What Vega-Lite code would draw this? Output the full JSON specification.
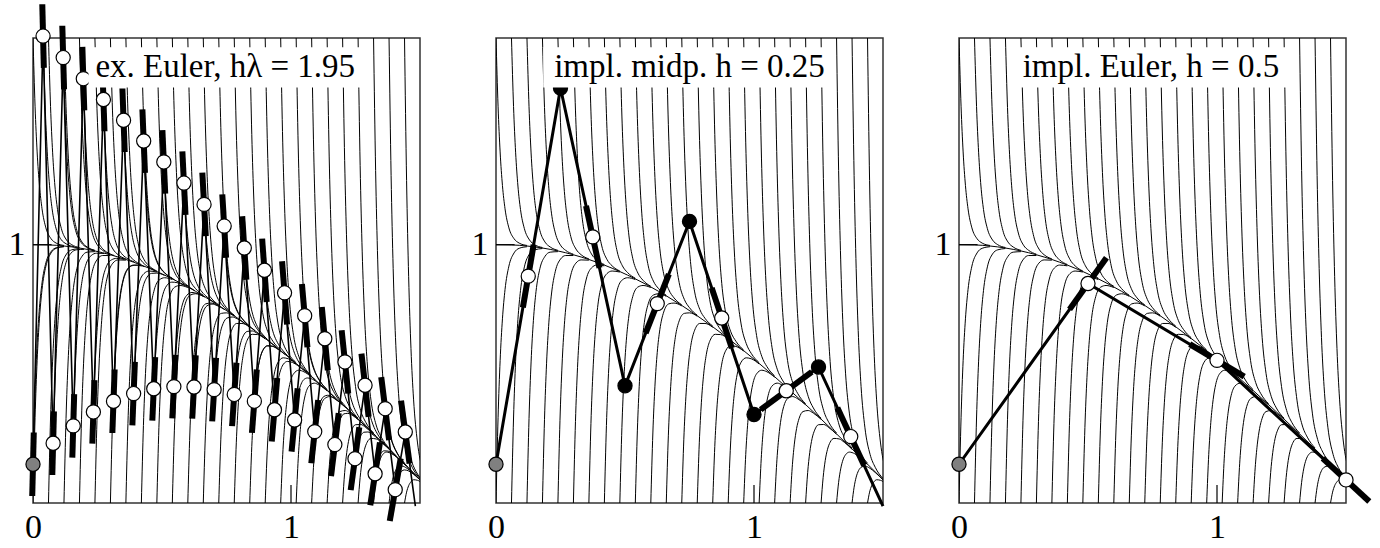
{
"$schema": "https://vega.github.io/schema/vega-lite/v6.json",
"padding": {"left": 7, "top": 0, "right": 2, "bottom": 2},
"background": "white",
"config": {
  "view": {"stroke": "#333", "strokeWidth": 1.5},
  "mark": {"font": "Liberation Serif"},
  "text": {"font": "Liberation Serif"},
  "axis": {"grid": false, "ticks": false, "domain": false, "title": null, "labelFont": "Liberation Serif", "labelFontSize": 34, "labelColor": "black", "labelFlush": false, "labelOverlap": false},
  "axisX": {"labelPadding": 7},
  "axisY": {"labelPadding": 8}
},
"datasets": {
"one": [{"a": 1}],
"field": [
{"i":"t0","x":0,"y":1.8},{"i":"t0","x":0.008,"y":1.536},{"i":"t0","x":0.016,"y":1.359},{"i":"t0","x":0.025,"y":1.229},{"i":"t0","x":0.035,"y":1.139},{"i":"t0","x":0.05,"y":1.065},{"i":"t0","x":0.07,"y":1.023},{"i":"t0","x":0.09,"y":1.006},{"i":"t0","x":0.12,"y":0.997},
{"i":"b0","x":0,"y":0},{"i":"b0","x":0.008,"y":0.33},{"i":"b0","x":0.016,"y":0.551},{"i":"b0","x":0.025,"y":0.713},{"i":"b0","x":0.035,"y":0.826},{"i":"b0","x":0.05,"y":0.917},{"i":"b0","x":0.07,"y":0.968},{"i":"b0","x":0.09,"y":0.986},{"i":"b0","x":0.12,"y":0.992},
{"i":"t1","x":0.06,"y":1.8},{"i":"t1","x":0.068,"y":1.535},{"i":"t1","x":0.076,"y":1.358},{"i":"t1","x":0.085,"y":1.227},{"i":"t1","x":0.095,"y":1.136},{"i":"t1","x":0.11,"y":1.062},{"i":"t1","x":0.13,"y":1.018},{"i":"t1","x":0.15,"y":1.0},{"i":"t1","x":0.18,"y":0.989},
{"i":"b1","x":0.06,"y":0},{"i":"b1","x":0.068,"y":0.329},{"i":"b1","x":0.076,"y":0.549},{"i":"b1","x":0.085,"y":0.711},{"i":"b1","x":0.095,"y":0.823},{"i":"b1","x":0.11,"y":0.914},{"i":"b1","x":0.13,"y":0.964},{"i":"b1","x":0.15,"y":0.98},{"i":"b1","x":0.18,"y":0.985},
{"i":"t2","x":0.12,"y":1.8},{"i":"t2","x":0.128,"y":1.534},{"i":"t2","x":0.136,"y":1.355},{"i":"t2","x":0.145,"y":1.223},{"i":"t2","x":0.155,"y":1.131},{"i":"t2","x":0.17,"y":1.055},{"i":"t2","x":0.19,"y":1.01},{"i":"t2","x":0.21,"y":0.991},{"i":"t2","x":0.24,"y":0.978},
{"i":"b2","x":0.12,"y":0},{"i":"b2","x":0.128,"y":0.327},{"i":"b2","x":0.136,"y":0.546},{"i":"b2","x":0.145,"y":0.707},{"i":"b2","x":0.155,"y":0.818},{"i":"b2","x":0.17,"y":0.907},{"i":"b2","x":0.19,"y":0.955},{"i":"b2","x":0.21,"y":0.971},{"i":"b2","x":0.24,"y":0.973},
{"i":"t3","x":0.18,"y":1.8},{"i":"t3","x":0.188,"y":1.531},{"i":"t3","x":0.196,"y":1.35},{"i":"t3","x":0.205,"y":1.216},{"i":"t3","x":0.215,"y":1.122},{"i":"t3","x":0.23,"y":1.045},{"i":"t3","x":0.25,"y":0.998},{"i":"t3","x":0.27,"y":0.978},{"i":"t3","x":0.3,"y":0.963},
{"i":"b3","x":0.18,"y":0},{"i":"b3","x":0.188,"y":0.324},{"i":"b3","x":0.196,"y":0.541},{"i":"b3","x":0.205,"y":0.7},{"i":"b3","x":0.215,"y":0.809},{"i":"b3","x":0.23,"y":0.897},{"i":"b3","x":0.25,"y":0.944},{"i":"b3","x":0.27,"y":0.958},{"i":"b3","x":0.3,"y":0.958},
{"i":"t4","x":0.24,"y":1.8},{"i":"t4","x":0.248,"y":1.526},{"i":"t4","x":0.256,"y":1.342},{"i":"t4","x":0.265,"y":1.206},{"i":"t4","x":0.275,"y":1.111},{"i":"t4","x":0.29,"y":1.031},{"i":"t4","x":0.31,"y":0.983},{"i":"t4","x":0.33,"y":0.961},{"i":"t4","x":0.36,"y":0.945},
{"i":"b4","x":0.24,"y":0},{"i":"b4","x":0.248,"y":0.32},{"i":"b4","x":0.256,"y":0.534},{"i":"b4","x":0.265,"y":0.69},{"i":"b4","x":0.275,"y":0.798},{"i":"b4","x":0.29,"y":0.883},{"i":"b4","x":0.31,"y":0.929},{"i":"b4","x":0.33,"y":0.941},{"i":"b4","x":0.36,"y":0.94},
{"i":"t5","x":0.3,"y":1.8},{"i":"t5","x":0.308,"y":1.521},{"i":"t5","x":0.316,"y":1.333},{"i":"t5","x":0.325,"y":1.194},{"i":"t5","x":0.335,"y":1.096},{"i":"t5","x":0.35,"y":1.015},{"i":"t5","x":0.37,"y":0.964},{"i":"t5","x":0.39,"y":0.941},{"i":"t5","x":0.42,"y":0.923},
{"i":"b5","x":0.3,"y":0},{"i":"b5","x":0.308,"y":0.315},{"i":"b5","x":0.316,"y":0.525},{"i":"b5","x":0.325,"y":0.678},{"i":"b5","x":0.335,"y":0.784},{"i":"b5","x":0.35,"y":0.867},{"i":"b5","x":0.37,"y":0.91},{"i":"b5","x":0.39,"y":0.921},{"i":"b5","x":0.42,"y":0.918},
{"i":"t6","x":0.36,"y":1.8},{"i":"t6","x":0.368,"y":1.514},{"i":"t6","x":0.376,"y":1.322},{"i":"t6","x":0.385,"y":1.18},{"i":"t6","x":0.395,"y":1.079},{"i":"t6","x":0.41,"y":0.995},{"i":"t6","x":0.43,"y":0.943},{"i":"t6","x":0.45,"y":0.918},{"i":"t6","x":0.48,"y":0.898},
{"i":"b6","x":0.36,"y":0},{"i":"b6","x":0.368,"y":0.308},{"i":"b6","x":0.376,"y":0.514},{"i":"b6","x":0.385,"y":0.664},{"i":"b6","x":0.395,"y":0.767},{"i":"b6","x":0.41,"y":0.847},{"i":"b6","x":0.43,"y":0.888},{"i":"b6","x":0.45,"y":0.898},{"i":"b6","x":0.48,"y":0.894},
{"i":"t7","x":0.42,"y":1.8},{"i":"t7","x":0.428,"y":1.507},{"i":"t7","x":0.436,"y":1.31},{"i":"t7","x":0.445,"y":1.163},{"i":"t7","x":0.455,"y":1.06},{"i":"t7","x":0.47,"y":0.972},{"i":"t7","x":0.49,"y":0.918},{"i":"t7","x":0.51,"y":0.892},{"i":"t7","x":0.54,"y":0.87},
{"i":"b7","x":0.42,"y":0},{"i":"b7","x":0.428,"y":0.3},{"i":"b7","x":0.436,"y":0.501},{"i":"b7","x":0.445,"y":0.647},{"i":"b7","x":0.455,"y":0.747},{"i":"b7","x":0.47,"y":0.825},{"i":"b7","x":0.49,"y":0.864},{"i":"b7","x":0.51,"y":0.872},{"i":"b7","x":0.54,"y":0.865},
{"i":"t8","x":0.48,"y":1.8},{"i":"t8","x":0.488,"y":1.498},{"i":"t8","x":0.496,"y":1.295},{"i":"t8","x":0.505,"y":1.144},{"i":"t8","x":0.515,"y":1.037},{"i":"t8","x":0.53,"y":0.947},{"i":"t8","x":0.55,"y":0.89},{"i":"t8","x":0.57,"y":0.862},{"i":"t8","x":0.6,"y":0.839},
{"i":"b8","x":0.48,"y":0},{"i":"b8","x":0.488,"y":0.292},{"i":"b8","x":0.496,"y":0.486},{"i":"b8","x":0.505,"y":0.628},{"i":"b8","x":0.515,"y":0.724},{"i":"b8","x":0.53,"y":0.799},{"i":"b8","x":0.55,"y":0.836},{"i":"b8","x":0.57,"y":0.842},{"i":"b8","x":0.6,"y":0.834},
{"i":"t9","x":0.54,"y":1.8},{"i":"t9","x":0.548,"y":1.489},{"i":"t9","x":0.556,"y":1.279},{"i":"t9","x":0.565,"y":1.122},{"i":"t9","x":0.575,"y":1.012},{"i":"t9","x":0.59,"y":0.918},{"i":"t9","x":0.61,"y":0.859},{"i":"t9","x":0.63,"y":0.83},{"i":"t9","x":0.66,"y":0.804},
{"i":"b9","x":0.54,"y":0},{"i":"b9","x":0.548,"y":0.282},{"i":"b9","x":0.556,"y":0.47},{"i":"b9","x":0.565,"y":0.606},{"i":"b9","x":0.575,"y":0.699},{"i":"b9","x":0.59,"y":0.771},{"i":"b9","x":0.61,"y":0.805},{"i":"b9","x":0.63,"y":0.81},{"i":"b9","x":0.66,"y":0.8},
{"i":"t10","x":0.6,"y":1.8},{"i":"t10","x":0.608,"y":1.478},{"i":"t10","x":0.616,"y":1.26},{"i":"t10","x":0.625,"y":1.098},{"i":"t10","x":0.635,"y":0.984},{"i":"t10","x":0.65,"y":0.887},{"i":"t10","x":0.67,"y":0.825},{"i":"t10","x":0.69,"y":0.794},{"i":"t10","x":0.72,"y":0.767},
{"i":"b10","x":0.6,"y":0},{"i":"b10","x":0.608,"y":0.271},{"i":"b10","x":0.616,"y":0.452},{"i":"b10","x":0.625,"y":0.583},{"i":"b10","x":0.635,"y":0.671},{"i":"b10","x":0.65,"y":0.739},{"i":"b10","x":0.67,"y":0.771},{"i":"b10","x":0.69,"y":0.774},{"i":"b10","x":0.72,"y":0.763},
{"i":"t11","x":0.66,"y":1.8},{"i":"t11","x":0.668,"y":1.466},{"i":"t11","x":0.676,"y":1.241},{"i":"t11","x":0.685,"y":1.073},{"i":"t11","x":0.695,"y":0.954},{"i":"t11","x":0.71,"y":0.853},{"i":"t11","x":0.73,"y":0.788},{"i":"t11","x":0.75,"y":0.756},{"i":"t11","x":0.78,"y":0.727},
{"i":"b11","x":0.66,"y":0},{"i":"b11","x":0.668,"y":0.26},{"i":"b11","x":0.676,"y":0.432},{"i":"b11","x":0.685,"y":0.557},{"i":"b11","x":0.695,"y":0.641},{"i":"b11","x":0.71,"y":0.705},{"i":"b11","x":0.73,"y":0.734},{"i":"b11","x":0.75,"y":0.736},{"i":"b11","x":0.78,"y":0.723},
{"i":"t12","x":0.72,"y":1.8},{"i":"t12","x":0.728,"y":1.454},{"i":"t12","x":0.736,"y":1.219},{"i":"t12","x":0.745,"y":1.045},{"i":"t12","x":0.755,"y":0.922},{"i":"t12","x":0.77,"y":0.817},{"i":"t12","x":0.79,"y":0.749},{"i":"t12","x":0.81,"y":0.715},{"i":"t12","x":0.84,"y":0.685},
{"i":"b12","x":0.72,"y":0},{"i":"b12","x":0.728,"y":0.247},{"i":"b12","x":0.736,"y":0.411},{"i":"b12","x":0.745,"y":0.529},{"i":"b12","x":0.755,"y":0.609},{"i":"b12","x":0.77,"y":0.669},{"i":"b12","x":0.79,"y":0.695},{"i":"b12","x":0.81,"y":0.695},{"i":"b12","x":0.84,"y":0.68},
{"i":"t13","x":0.78,"y":1.8},{"i":"t13","x":0.788,"y":1.44},{"i":"t13","x":0.796,"y":1.197},{"i":"t13","x":0.805,"y":1.015},{"i":"t13","x":0.815,"y":0.887},{"i":"t13","x":0.83,"y":0.778},{"i":"t13","x":0.85,"y":0.707},{"i":"t13","x":0.87,"y":0.672},{"i":"t13","x":0.9,"y":0.64},
{"i":"b13","x":0.78,"y":0},{"i":"b13","x":0.788,"y":0.233},{"i":"b13","x":0.796,"y":0.388},{"i":"b13","x":0.805,"y":0.5},{"i":"b13","x":0.815,"y":0.574},{"i":"b13","x":0.83,"y":0.63},{"i":"b13","x":0.85,"y":0.653},{"i":"b13","x":0.87,"y":0.652},{"i":"b13","x":0.9,"y":0.635},
{"i":"t14","x":0.84,"y":1.8},{"i":"t14","x":0.848,"y":1.426},{"i":"t14","x":0.856,"y":1.173},{"i":"t14","x":0.865,"y":0.984},{"i":"t14","x":0.875,"y":0.85},{"i":"t14","x":0.89,"y":0.737},{"i":"t14","x":0.91,"y":0.663},{"i":"t14","x":0.93,"y":0.626},{"i":"t14","x":0.96,"y":0.592},
{"i":"b14","x":0.84,"y":0},{"i":"b14","x":0.848,"y":0.219},{"i":"b14","x":0.856,"y":0.364},{"i":"b14","x":0.865,"y":0.468},{"i":"b14","x":0.875,"y":0.538},{"i":"b14","x":0.89,"y":0.589},{"i":"b14","x":0.91,"y":0.609},{"i":"b14","x":0.93,"y":0.606},{"i":"b14","x":0.96,"y":0.588},
{"i":"t15","x":0.9,"y":1.8},{"i":"t15","x":0.908,"y":1.41},{"i":"t15","x":0.916,"y":1.147},{"i":"t15","x":0.925,"y":0.951},{"i":"t15","x":0.935,"y":0.812},{"i":"t15","x":0.95,"y":0.693},{"i":"t15","x":0.97,"y":0.617},{"i":"t15","x":0.99,"y":0.578},{"i":"t15","x":1.02,"y":0.543},
{"i":"b15","x":0.9,"y":0},{"i":"b15","x":0.908,"y":0.204},{"i":"b15","x":0.916,"y":0.338},{"i":"b15","x":0.925,"y":0.435},{"i":"b15","x":0.935,"y":0.499},{"i":"b15","x":0.95,"y":0.545},{"i":"b15","x":0.97,"y":0.562},{"i":"b15","x":0.99,"y":0.558},{"i":"b15","x":1.02,"y":0.538},
{"i":"t16","x":0.96,"y":1.8},{"i":"t16","x":0.968,"y":1.394},{"i":"t16","x":0.976,"y":1.121},{"i":"t16","x":0.985,"y":0.916},{"i":"t16","x":0.995,"y":0.771},{"i":"t16","x":1.01,"y":0.648},{"i":"t16","x":1.03,"y":0.568},{"i":"t16","x":1.05,"y":0.528},{"i":"t16","x":1.08,"y":0.492},
{"i":"b16","x":0.96,"y":0},{"i":"b16","x":0.968,"y":0.188},{"i":"b16","x":0.976,"y":0.312},{"i":"b16","x":0.985,"y":0.4},{"i":"b16","x":0.995,"y":0.459},{"i":"b16","x":1.01,"y":0.5},{"i":"b16","x":1.03,"y":0.514},{"i":"b16","x":1.05,"y":0.508},{"i":"b16","x":1.08,"y":0.487},
{"i":"t17","x":1.02,"y":1.8},{"i":"t17","x":1.028,"y":1.378},{"i":"t17","x":1.036,"y":1.093},{"i":"t17","x":1.045,"y":0.88},{"i":"t17","x":1.055,"y":0.729},{"i":"t17","x":1.07,"y":0.601},{"i":"t17","x":1.09,"y":0.518},{"i":"t17","x":1.11,"y":0.476},{"i":"t17","x":1.14,"y":0.439},
{"i":"b17","x":1.02,"y":0},{"i":"b17","x":1.028,"y":0.171},{"i":"b17","x":1.036,"y":0.284},{"i":"b17","x":1.045,"y":0.364},{"i":"b17","x":1.055,"y":0.417},{"i":"b17","x":1.07,"y":0.453},{"i":"b17","x":1.09,"y":0.464},{"i":"b17","x":1.11,"y":0.456},{"i":"b17","x":1.14,"y":0.434},
{"i":"t18","x":1.08,"y":1.8},{"i":"t18","x":1.088,"y":1.361},{"i":"t18","x":1.096,"y":1.064},{"i":"t18","x":1.105,"y":0.843},{"i":"t18","x":1.115,"y":0.686},{"i":"t18","x":1.13,"y":0.552},{"i":"t18","x":1.15,"y":0.466},{"i":"t18","x":1.17,"y":0.423},{"i":"t18","x":1.2,"y":0.384},
{"i":"b18","x":1.08,"y":0},{"i":"b18","x":1.088,"y":0.154},{"i":"b18","x":1.096,"y":0.255},{"i":"b18","x":1.105,"y":0.327},{"i":"b18","x":1.115,"y":0.373},{"i":"b18","x":1.13,"y":0.404},{"i":"b18","x":1.15,"y":0.412},{"i":"b18","x":1.17,"y":0.403},{"i":"b18","x":1.2,"y":0.38},
{"i":"t19","x":1.14,"y":1.8},{"i":"t19","x":1.148,"y":1.343},{"i":"t19","x":1.156,"y":1.034},{"i":"t19","x":1.165,"y":0.804},{"i":"t19","x":1.175,"y":0.641},{"i":"t19","x":1.19,"y":0.502},{"i":"t19","x":1.21,"y":0.413},{"i":"t19","x":1.23,"y":0.368},{"i":"t19","x":1.26,"y":0.328},
{"i":"b19","x":1.14,"y":0},{"i":"b19","x":1.148,"y":0.136},{"i":"b19","x":1.156,"y":0.225},{"i":"b19","x":1.165,"y":0.288},{"i":"b19","x":1.175,"y":0.328},{"i":"b19","x":1.19,"y":0.354},{"i":"b19","x":1.21,"y":0.358},{"i":"b19","x":1.23,"y":0.348},{"i":"b19","x":1.26,"y":0.324},
{"i":"t20","x":1.2,"y":1.8},{"i":"t20","x":1.208,"y":1.325},{"i":"t20","x":1.216,"y":1.004},{"i":"t20","x":1.225,"y":0.764},{"i":"t20","x":1.235,"y":0.595},{"i":"t20","x":1.25,"y":0.451},{"i":"t20","x":1.27,"y":0.358},{"i":"t20","x":1.29,"y":0.312},{"i":"t20","x":1.32,"y":0.271},
{"i":"b20","x":1.2,"y":0},{"i":"b20","x":1.208,"y":0.118},{"i":"b20","x":1.216,"y":0.195},{"i":"b20","x":1.225,"y":0.249},{"i":"b20","x":1.235,"y":0.282},{"i":"b20","x":1.25,"y":0.303},{"i":"b20","x":1.27,"y":0.304},{"i":"b20","x":1.29,"y":0.292},{"i":"b20","x":1.32,"y":0.266},
{"i":"t21","x":1.26,"y":1.8},{"i":"t21","x":1.268,"y":1.306},{"i":"t21","x":1.276,"y":0.972},{"i":"t21","x":1.285,"y":0.724},{"i":"t21","x":1.295,"y":0.548},{"i":"t21","x":1.31,"y":0.398},{"i":"t21","x":1.33,"y":0.302},{"i":"t21","x":1.35,"y":0.255},{"i":"t21","x":1.38,"y":0.213},
{"i":"b21","x":1.26,"y":0},{"i":"b21","x":1.268,"y":0.099},{"i":"b21","x":1.276,"y":0.164},{"i":"b21","x":1.285,"y":0.208},{"i":"b21","x":1.295,"y":0.235},{"i":"b21","x":1.31,"y":0.25},{"i":"b21","x":1.33,"y":0.248},{"i":"b21","x":1.35,"y":0.235},{"i":"b21","x":1.38,"y":0.208},
{"i":"t22","x":1.32,"y":1.8},{"i":"t22","x":1.328,"y":1.287},{"i":"t22","x":1.336,"y":0.941},{"i":"t22","x":1.345,"y":0.682},{"i":"t22","x":1.355,"y":0.5},{"i":"t22","x":1.37,"y":0.345},{"i":"t22","x":1.39,"y":0.246},{"i":"t22","x":1.41,"y":0.197},{"i":"t22","x":1.44,"y":0.154},
{"i":"b22","x":1.32,"y":0},{"i":"b22","x":1.328,"y":0.08},{"i":"b22","x":1.336,"y":0.132},{"i":"b22","x":1.345,"y":0.167},{"i":"b22","x":1.355,"y":0.187},{"i":"b22","x":1.37,"y":0.197},{"i":"b22","x":1.39,"y":0.191},{"i":"b22","x":1.41,"y":0.177},{"i":"b22","x":1.44,"y":0.149},
{"i":"t23","x":1.38,"y":1.8},{"i":"t23","x":1.388,"y":1.268},{"i":"t23","x":1.396,"y":0.908},{"i":"t23","x":1.405,"y":0.64},{"i":"t23","x":1.415,"y":0.451},{"i":"t23","x":1.43,"y":0.291},{"i":"t23","x":1.45,"y":0.188},{"i":"t23","x":1.47,"y":0.138},{"i":"t23","x":1.5,"y":0.095},
{"i":"b23","x":1.38,"y":0},{"i":"b23","x":1.388,"y":0.061},{"i":"b23","x":1.396,"y":0.1},{"i":"b23","x":1.405,"y":0.125},{"i":"b23","x":1.415,"y":0.138},{"i":"b23","x":1.43,"y":0.143},{"i":"b23","x":1.45,"y":0.134},{"i":"b23","x":1.47,"y":0.118},{"i":"b23","x":1.5,"y":0.09},
{"i":"t24","x":1.44,"y":1.8},{"i":"t24","x":1.448,"y":1.248},{"i":"t24","x":1.456,"y":0.876},{"i":"t24","x":1.465,"y":0.598},{"i":"t24","x":1.475,"y":0.402},{"i":"t24","x":1.49,"y":0.236},{"i":"t24","x":1.51,"y":0.13},
{"i":"b24","x":1.44,"y":0},{"i":"b24","x":1.448,"y":0.042},{"i":"b24","x":1.456,"y":0.067},{"i":"b24","x":1.465,"y":0.082},{"i":"b24","x":1.475,"y":0.09},{"i":"b24","x":1.49,"y":0.088},{"i":"b24","x":1.51,"y":0.076}
],
"smooth": [
{"x":0,"y":0.9996},{"x":0.06,"y":0.999},{"x":0.12,"y":0.9948},{"x":0.18,"y":0.987},{"x":0.24,"y":0.9757},{"x":0.3,"y":0.9609},{"x":0.36,"y":0.9426},{"x":0.42,"y":0.9209},{"x":0.48,"y":0.8959},{"x":0.54,"y":0.8676},{"x":0.6,"y":0.8363},{"x":0.66,"y":0.8019},{"x":0.72,"y":0.7647},{"x":0.78,"y":0.7247},{"x":0.84,"y":0.6821},{"x":0.9,"y":0.637},{"x":0.96,"y":0.5897},{"x":1.02,"y":0.5402},{"x":1.08,"y":0.4888},{"x":1.14,"y":0.4356},{"x":1.2,"y":0.3809},{"x":1.26,"y":0.3247},{"x":1.32,"y":0.2675},{"x":1.38,"y":0.2092},{"x":1.44,"y":0.1502},{"x":1.5,"y":0.0907}
],
"eecurves": [
{"i":"e0","x":0,"y":0.15},{"i":"e0","x":0.008,"y":0.43},{"i":"e0","x":0.016,"y":0.618},{"i":"e0","x":0.025,"y":0.756},{"i":"e0","x":0.035,"y":0.852},{"i":"e0","x":0.05,"y":0.93},{"i":"e0","x":0.07,"y":0.973},{"i":"e0","x":0.09,"y":0.988},{"i":"e0","x":0.12,"y":0.993},
{"i":"e1","x":0.039,"y":1.808},{"i":"e1","x":0.047,"y":1.541},{"i":"e1","x":0.055,"y":1.362},{"i":"e1","x":0.064,"y":1.23},{"i":"e1","x":0.074,"y":1.139},{"i":"e1","x":0.089,"y":1.064},{"i":"e1","x":0.109,"y":1.02},{"i":"e1","x":0.129,"y":1.003},{"i":"e1","x":0.159,"y":0.992},
{"i":"e2","x":0.078,"y":0.231},{"i":"e2","x":0.086,"y":0.484},{"i":"e2","x":0.094,"y":0.653},{"i":"e2","x":0.103,"y":0.777},{"i":"e2","x":0.113,"y":0.862},{"i":"e2","x":0.128,"y":0.931},{"i":"e2","x":0.148,"y":0.968},{"i":"e2","x":0.168,"y":0.98},{"i":"e2","x":0.198,"y":0.982},
{"i":"e3","x":0.117,"y":1.724},{"i":"e3","x":0.125,"y":1.483},{"i":"e3","x":0.133,"y":1.321},{"i":"e3","x":0.142,"y":1.201},{"i":"e3","x":0.152,"y":1.118},{"i":"e3","x":0.167,"y":1.049},{"i":"e3","x":0.187,"y":1.008},{"i":"e3","x":0.207,"y":0.99},{"i":"e3","x":0.237,"y":0.978},
{"i":"e4","x":0.156,"y":0.299},{"i":"e4","x":0.164,"y":0.526},{"i":"e4","x":0.172,"y":0.677},{"i":"e4","x":0.181,"y":0.789},{"i":"e4","x":0.191,"y":0.865},{"i":"e4","x":0.206,"y":0.926},{"i":"e4","x":0.226,"y":0.958},{"i":"e4","x":0.246,"y":0.967},{"i":"e4","x":0.276,"y":0.966},
{"i":"e5","x":0.195,"y":1.643},{"i":"e5","x":0.203,"y":1.424},{"i":"e5","x":0.211,"y":1.277},{"i":"e5","x":0.22,"y":1.168},{"i":"e5","x":0.23,"y":1.092},{"i":"e5","x":0.245,"y":1.029},{"i":"e5","x":0.265,"y":0.99},{"i":"e5","x":0.285,"y":0.972},{"i":"e5","x":0.315,"y":0.958},
{"i":"e6","x":0.234,"y":0.353},{"i":"e6","x":0.242,"y":0.557},{"i":"e6","x":0.25,"y":0.693},{"i":"e6","x":0.259,"y":0.793},{"i":"e6","x":0.269,"y":0.861},{"i":"e6","x":0.284,"y":0.914},{"i":"e6","x":0.304,"y":0.941},{"i":"e6","x":0.324,"y":0.947},{"i":"e6","x":0.354,"y":0.943},
{"i":"e7","x":0.273,"y":1.562},{"i":"e7","x":0.281,"y":1.364},{"i":"e7","x":0.289,"y":1.231},{"i":"e7","x":0.298,"y":1.132},{"i":"e7","x":0.308,"y":1.062},{"i":"e7","x":0.323,"y":1.003},{"i":"e7","x":0.343,"y":0.966},{"i":"e7","x":0.363,"y":0.948},{"i":"e7","x":0.393,"y":0.933},
{"i":"e8","x":0.312,"y":0.394},{"i":"e8","x":0.32,"y":0.577},{"i":"e8","x":0.328,"y":0.7},{"i":"e8","x":0.337,"y":0.789},{"i":"e8","x":0.347,"y":0.849},{"i":"e8","x":0.362,"y":0.896},{"i":"e8","x":0.382,"y":0.918},{"i":"e8","x":0.402,"y":0.921},{"i":"e8","x":0.432,"y":0.915},
{"i":"e9","x":0.351,"y":1.482},{"i":"e9","x":0.359,"y":1.302},{"i":"e9","x":0.367,"y":1.181},{"i":"e9","x":0.376,"y":1.091},{"i":"e9","x":0.386,"y":1.027},{"i":"e9","x":0.401,"y":0.972},{"i":"e9","x":0.421,"y":0.937},{"i":"e9","x":0.441,"y":0.918},{"i":"e9","x":0.471,"y":0.901},
{"i":"e10","x":0.39,"y":0.424},{"i":"e10","x":0.398,"y":0.588},{"i":"e10","x":0.406,"y":0.698},{"i":"e10","x":0.415,"y":0.777},{"i":"e10","x":0.425,"y":0.831},{"i":"e10","x":0.44,"y":0.871},{"i":"e10","x":0.46,"y":0.889},{"i":"e10","x":0.48,"y":0.89},{"i":"e10","x":0.51,"y":0.881},
{"i":"e11","x":0.429,"y":1.401},{"i":"e11","x":0.437,"y":1.238},{"i":"e11","x":0.445,"y":1.128},{"i":"e11","x":0.454,"y":1.046},{"i":"e11","x":0.464,"y":0.987},{"i":"e11","x":0.479,"y":0.936},{"i":"e11","x":0.499,"y":0.902},{"i":"e11","x":0.519,"y":0.883},{"i":"e11","x":0.549,"y":0.864},
{"i":"e12","x":0.468,"y":0.442},{"i":"e12","x":0.476,"y":0.59},{"i":"e12","x":0.484,"y":0.688},{"i":"e12","x":0.493,"y":0.759},{"i":"e12","x":0.503,"y":0.806},{"i":"e12","x":0.518,"y":0.841},{"i":"e12","x":0.538,"y":0.855},{"i":"e12","x":0.558,"y":0.853},{"i":"e12","x":0.588,"y":0.842},
{"i":"e13","x":0.507,"y":1.32},{"i":"e13","x":0.515,"y":1.173},{"i":"e13","x":0.523,"y":1.072},{"i":"e13","x":0.532,"y":0.997},{"i":"e13","x":0.542,"y":0.943},{"i":"e13","x":0.557,"y":0.895},{"i":"e13","x":0.577,"y":0.862},{"i":"e13","x":0.597,"y":0.843},{"i":"e13","x":0.627,"y":0.822},
{"i":"e14","x":0.546,"y":0.45},{"i":"e14","x":0.554,"y":0.583},{"i":"e14","x":0.562,"y":0.67},{"i":"e14","x":0.571,"y":0.733},{"i":"e14","x":0.581,"y":0.775},{"i":"e14","x":0.596,"y":0.804},{"i":"e14","x":0.616,"y":0.815},{"i":"e14","x":0.636,"y":0.811},{"i":"e14","x":0.666,"y":0.797},
{"i":"e15","x":0.585,"y":1.239},{"i":"e15","x":0.593,"y":1.104},{"i":"e15","x":0.601,"y":1.013},{"i":"e15","x":0.61,"y":0.944},{"i":"e15","x":0.62,"y":0.894},{"i":"e15","x":0.635,"y":0.849},{"i":"e15","x":0.655,"y":0.817},{"i":"e15","x":0.675,"y":0.797},{"i":"e15","x":0.705,"y":0.775},
{"i":"e16","x":0.624,"y":0.449},{"i":"e16","x":0.632,"y":0.568},{"i":"e16","x":0.64,"y":0.646},{"i":"e16","x":0.649,"y":0.701},{"i":"e16","x":0.659,"y":0.738},{"i":"e16","x":0.674,"y":0.763},{"i":"e16","x":0.694,"y":0.77},{"i":"e16","x":0.714,"y":0.764},{"i":"e16","x":0.744,"y":0.748},
{"i":"e17","x":0.663,"y":1.156},{"i":"e17","x":0.671,"y":1.034},{"i":"e17","x":0.679,"y":0.95},{"i":"e17","x":0.688,"y":0.887},{"i":"e17","x":0.698,"y":0.841},{"i":"e17","x":0.713,"y":0.798},{"i":"e17","x":0.733,"y":0.767},{"i":"e17","x":0.753,"y":0.747},{"i":"e17","x":0.783,"y":0.723},
{"i":"e18","x":0.702,"y":0.439},{"i":"e18","x":0.71,"y":0.545},{"i":"e18","x":0.718,"y":0.614},{"i":"e18","x":0.727,"y":0.664},{"i":"e18","x":0.737,"y":0.695},{"i":"e18","x":0.752,"y":0.716},{"i":"e18","x":0.772,"y":0.72},{"i":"e18","x":0.792,"y":0.713},{"i":"e18","x":0.822,"y":0.694},
{"i":"e19","x":0.741,"y":1.072},{"i":"e19","x":0.749,"y":0.961},{"i":"e19","x":0.757,"y":0.885},{"i":"e19","x":0.766,"y":0.826},{"i":"e19","x":0.776,"y":0.783},{"i":"e19","x":0.791,"y":0.743},{"i":"e19","x":0.811,"y":0.713},{"i":"e19","x":0.831,"y":0.692},{"i":"e19","x":0.861,"y":0.667},
{"i":"e20","x":0.78,"y":0.42},{"i":"e20","x":0.788,"y":0.515},{"i":"e20","x":0.796,"y":0.577},{"i":"e20","x":0.805,"y":0.62},{"i":"e20","x":0.815,"y":0.647},{"i":"e20","x":0.83,"y":0.664},{"i":"e20","x":0.85,"y":0.666},{"i":"e20","x":0.87,"y":0.656},{"i":"e20","x":0.9,"y":0.636},
{"i":"e21","x":0.819,"y":0.987},{"i":"e21","x":0.827,"y":0.886},{"i":"e21","x":0.835,"y":0.816},{"i":"e21","x":0.844,"y":0.762},{"i":"e21","x":0.854,"y":0.722},{"i":"e21","x":0.869,"y":0.684},{"i":"e21","x":0.889,"y":0.654},{"i":"e21","x":0.909,"y":0.633},{"i":"e21","x":0.939,"y":0.607},
{"i":"e22","x":0.858,"y":0.394},{"i":"e22","x":0.866,"y":0.479},{"i":"e22","x":0.874,"y":0.533},{"i":"e22","x":0.883,"y":0.571},{"i":"e22","x":0.893,"y":0.595},{"i":"e22","x":0.908,"y":0.608},{"i":"e22","x":0.928,"y":0.607},{"i":"e22","x":0.948,"y":0.596},{"i":"e22","x":0.978,"y":0.574},
{"i":"e23","x":0.897,"y":0.901},{"i":"e23","x":0.905,"y":0.808},{"i":"e23","x":0.913,"y":0.744},{"i":"e23","x":0.922,"y":0.695},{"i":"e23","x":0.932,"y":0.657},{"i":"e23","x":0.947,"y":0.622},{"i":"e23","x":0.967,"y":0.592},{"i":"e23","x":0.987,"y":0.57},{"i":"e23","x":1.017,"y":0.543},
{"i":"e24","x":0.936,"y":0.361},{"i":"e24","x":0.944,"y":0.436},{"i":"e24","x":0.952,"y":0.485},{"i":"e24","x":0.961,"y":0.518},{"i":"e24","x":0.971,"y":0.538},{"i":"e24","x":0.986,"y":0.548},{"i":"e24","x":1.006,"y":0.544},{"i":"e24","x":1.026,"y":0.532},{"i":"e24","x":1.056,"y":0.509},
{"i":"e25","x":0.975,"y":0.814},{"i":"e25","x":0.983,"y":0.729},{"i":"e25","x":0.991,"y":0.67},{"i":"e25","x":1.0,"y":0.625},{"i":"e25","x":1.01,"y":0.59},{"i":"e25","x":1.025,"y":0.555},{"i":"e25","x":1.045,"y":0.526},{"i":"e25","x":1.065,"y":0.504},{"i":"e25","x":1.095,"y":0.476},
{"i":"e26","x":1.014,"y":0.321},{"i":"e26","x":1.022,"y":0.389},{"i":"e26","x":1.03,"y":0.431},{"i":"e26","x":1.039,"y":0.46},{"i":"e26","x":1.049,"y":0.477},{"i":"e26","x":1.064,"y":0.484},{"i":"e26","x":1.084,"y":0.479},{"i":"e26","x":1.104,"y":0.465},{"i":"e26","x":1.134,"y":0.44},
{"i":"e27","x":1.053,"y":0.725},{"i":"e27","x":1.061,"y":0.648},{"i":"e27","x":1.069,"y":0.594},{"i":"e27","x":1.078,"y":0.552},{"i":"e27","x":1.088,"y":0.519},{"i":"e27","x":1.103,"y":0.486},{"i":"e27","x":1.123,"y":0.457},{"i":"e27","x":1.143,"y":0.435},{"i":"e27","x":1.173,"y":0.406},
{"i":"e28","x":1.092,"y":0.276},{"i":"e28","x":1.1,"y":0.336},{"i":"e28","x":1.108,"y":0.373},{"i":"e28","x":1.117,"y":0.398},{"i":"e28","x":1.127,"y":0.412},{"i":"e28","x":1.142,"y":0.417},{"i":"e28","x":1.162,"y":0.41},{"i":"e28","x":1.182,"y":0.395},{"i":"e28","x":1.212,"y":0.369},
{"i":"e29","x":1.131,"y":0.636},{"i":"e29","x":1.139,"y":0.565},{"i":"e29","x":1.147,"y":0.516},{"i":"e29","x":1.156,"y":0.476},{"i":"e29","x":1.166,"y":0.446},{"i":"e29","x":1.181,"y":0.414},{"i":"e29","x":1.201,"y":0.386},{"i":"e29","x":1.221,"y":0.363},{"i":"e29","x":1.251,"y":0.334},
{"i":"e30","x":1.17,"y":0.226},{"i":"e30","x":1.178,"y":0.279},{"i":"e30","x":1.186,"y":0.312},{"i":"e30","x":1.195,"y":0.333},{"i":"e30","x":1.205,"y":0.345},{"i":"e30","x":1.22,"y":0.347},{"i":"e30","x":1.24,"y":0.338},{"i":"e30","x":1.26,"y":0.323},{"i":"e30","x":1.29,"y":0.296},
{"i":"e31","x":1.209,"y":0.546},{"i":"e31","x":1.217,"y":0.481},{"i":"e31","x":1.225,"y":0.436},{"i":"e31","x":1.234,"y":0.399},{"i":"e31","x":1.244,"y":0.37},{"i":"e31","x":1.259,"y":0.34},{"i":"e31","x":1.279,"y":0.312},{"i":"e31","x":1.299,"y":0.29},{"i":"e31","x":1.329,"y":0.259},
{"i":"e32","x":1.248,"y":0.171},{"i":"e32","x":1.256,"y":0.218},{"i":"e32","x":1.264,"y":0.247},{"i":"e32","x":1.273,"y":0.265},{"i":"e32","x":1.283,"y":0.274},{"i":"e32","x":1.298,"y":0.275},{"i":"e32","x":1.318,"y":0.264},{"i":"e32","x":1.338,"y":0.248},{"i":"e32","x":1.368,"y":0.22},
{"i":"e33","x":1.287,"y":0.456},{"i":"e33","x":1.295,"y":0.396},{"i":"e33","x":1.303,"y":0.354},{"i":"e33","x":1.312,"y":0.32},{"i":"e33","x":1.322,"y":0.293},{"i":"e33","x":1.337,"y":0.264},{"i":"e33","x":1.357,"y":0.236},{"i":"e33","x":1.377,"y":0.214},{"i":"e33","x":1.407,"y":0.183},
{"i":"e34","x":1.326,"y":0.113},{"i":"e34","x":1.334,"y":0.154},{"i":"e34","x":1.342,"y":0.179},{"i":"e34","x":1.351,"y":0.195},{"i":"e34","x":1.361,"y":0.202},{"i":"e34","x":1.376,"y":0.201},{"i":"e34","x":1.396,"y":0.189},{"i":"e34","x":1.416,"y":0.172},{"i":"e34","x":1.446,"y":0.144},
{"i":"e35","x":1.365,"y":0.365},{"i":"e35","x":1.373,"y":0.311},{"i":"e35","x":1.381,"y":0.272},{"i":"e35","x":1.39,"y":0.24},{"i":"e35","x":1.4,"y":0.214},{"i":"e35","x":1.415,"y":0.186},{"i":"e35","x":1.435,"y":0.159},{"i":"e35","x":1.455,"y":0.137},{"i":"e35","x":1.485,"y":0.106},
{"i":"e36","x":1.404,"y":0.052},{"i":"e36","x":1.412,"y":0.088},{"i":"e36","x":1.42,"y":0.11},{"i":"e36","x":1.429,"y":0.123},{"i":"e36","x":1.439,"y":0.128},{"i":"e36","x":1.454,"y":0.125},{"i":"e36","x":1.474,"y":0.112},{"i":"e36","x":1.494,"y":0.095},{"i":"e36","x":1.524,"y":0.066},
{"i":"e37","x":1.443,"y":0.275},{"i":"e37","x":1.451,"y":0.225},{"i":"e37","x":1.459,"y":0.189},{"i":"e37","x":1.468,"y":0.159},{"i":"e37","x":1.478,"y":0.135},{"i":"e37","x":1.493,"y":0.108},{"i":"e37","x":1.513,"y":0.082}
],
"ee": [
{"x":0,"y":0.15,"k":"g"},{"x":0.039,"y":1.8075,"k":"w"},{"x":0.078,"y":0.2314,"k":"w"},{"x":0.117,"y":1.7243,"k":"w"},{"x":0.156,"y":0.2986,"k":"w"},{"x":0.195,"y":1.6426,"k":"w"},{"x":0.234,"y":0.3525,"k":"w"},{"x":0.273,"y":1.562,"k":"w"},{"x":0.312,"y":0.3939,"k":"w"},{"x":0.351,"y":1.4816,"k":"w"},{"x":0.39,"y":0.4236,"k":"w"},{"x":0.429,"y":1.4012,"k":"w"},{"x":0.468,"y":0.4422,"k":"w"},{"x":0.507,"y":1.3203,"k":"w"},{"x":0.546,"y":0.4505,"k":"w"},{"x":0.585,"y":1.2385,"k":"w"},{"x":0.624,"y":0.4491,"k":"w"},{"x":0.663,"y":1.1559,"k":"w"},{"x":0.702,"y":0.4388,"k":"w"},{"x":0.741,"y":1.072,"k":"w"},{"x":0.78,"y":0.4203,"k":"w"},{"x":0.819,"y":0.987,"k":"w"},{"x":0.858,"y":0.3941,"k":"w"},{"x":0.897,"y":0.9008,"k":"w"},{"x":0.936,"y":0.3609,"k":"w"},{"x":0.975,"y":0.8135,"k":"w"},{"x":1.014,"y":0.3214,"k":"w"},{"x":1.053,"y":0.7252,"k":"w"},{"x":1.092,"y":0.2763,"k":"w"},{"x":1.131,"y":0.636,"k":"w"},{"x":1.17,"y":0.2261,"k":"w"},{"x":1.209,"y":0.5461,"k":"w"},{"x":1.248,"y":0.1715,"k":"w"},{"x":1.287,"y":0.4557,"k":"w"},{"x":1.326,"y":0.1131,"k":"w"},{"x":1.365,"y":0.3651,"k":"w"},{"x":1.404,"y":0.0516,"k":"w"},{"x":1.443,"y":0.2748,"k":"w"},{"x":1.482,"y":-0.0125,"k":"e"}
],
"eebars": [
{"x":-0.003,"y":0.027,"x2":0.003,"y2":0.273},{"x":0.036,"y":1.9305,"x2":0.042,"y2":1.6845},{"x":0.0748,"y":0.1084,"x2":0.0812,"y2":0.3544},{"x":0.1136,"y":1.8473,"x2":0.1204,"y2":1.6013},{"x":0.1524,"y":0.1757,"x2":0.1596,"y2":0.4215},{"x":0.1913,"y":1.7655,"x2":0.1987,"y2":1.5197},{"x":0.23,"y":0.2296,"x2":0.238,"y2":0.4754},{"x":0.2689,"y":1.6849,"x2":0.2771,"y2":1.4391},{"x":0.3076,"y":0.271,"x2":0.3164,"y2":0.5168},{"x":0.3465,"y":1.6045,"x2":0.3555,"y2":1.3587},{"x":0.3851,"y":0.3007,"x2":0.3949,"y2":0.5465},{"x":0.424,"y":1.5241,"x2":0.434,"y2":1.2783},{"x":0.4625,"y":0.3193,"x2":0.4735,"y2":0.5651},{"x":0.5015,"y":1.4432,"x2":0.5125,"y2":1.1974},{"x":0.5399,"y":0.3277,"x2":0.5521,"y2":0.5733},{"x":0.5789,"y":1.3613,"x2":0.5911,"y2":1.1157},{"x":0.6172,"y":0.3263,"x2":0.6308,"y2":0.5719},{"x":0.6563,"y":1.2787,"x2":0.6697,"y2":1.0331},{"x":0.6944,"y":0.316,"x2":0.7096,"y2":0.5616},{"x":0.7337,"y":1.1948,"x2":0.7484,"y2":0.9492},{"x":0.7716,"y":0.2976,"x2":0.7885,"y2":0.543},{"x":0.8109,"y":1.1098,"x2":0.8271,"y2":0.8642},{"x":0.8486,"y":0.2715,"x2":0.8674,"y2":0.5167},{"x":0.8881,"y":1.0234,"x2":0.9059,"y2":0.7782},{"x":0.9254,"y":0.2383,"x2":0.9466,"y2":0.4835},{"x":0.9653,"y":0.9361,"x2":0.9847,"y2":0.6909},{"x":1.0022,"y":0.199,"x2":1.0258,"y2":0.4438},{"x":1.0424,"y":0.8478,"x2":1.0637,"y2":0.6026},{"x":1.0787,"y":0.154,"x2":1.1053,"y2":0.3986},{"x":1.1194,"y":0.7584,"x2":1.1427,"y2":0.5136},{"x":1.1551,"y":0.104,"x2":1.1849,"y2":0.3482},{"x":1.1963,"y":0.6685,"x2":1.2218,"y2":0.4237},{"x":1.2313,"y":0.0497,"x2":1.2647,"y2":0.2933},{"x":1.2731,"y":0.5779,"x2":1.3009,"y2":0.3335},{"x":1.3072,"y":-0.0084,"x2":1.3448,"y2":0.2346},{"x":1.3498,"y":0.4872,"x2":1.3802,"y2":0.243},{"x":1.3828,"y":-0.0695,"x2":1.4252,"y2":0.1727},{"x":1.4265,"y":0.3966,"x2":1.4595,"y2":0.153}
],
"p2poly": [
{"x":0,"y":0.15},{"x":0.25,"y":1.6064},{"x":0.5,"y":0.4537},{"x":0.75,"y":1.0899},{"x":1,"y":0.3425},{"x":1.25,"y":0.5265},{"x":1.5,"y":-0.0121}
],
"p2pts": [
{"x":0,"y":0.15,"k":"g"},{"x":0.25,"y":1.6064,"k":"b"},{"x":0.5,"y":0.4537,"k":"b"},{"x":0.75,"y":1.0899,"k":"b"},{"x":1,"y":0.3425,"k":"b"},{"x":1.25,"y":0.5265,"k":"b"},{"x":0.125,"y":0.8782,"k":"w"},{"x":0.375,"y":1.0301,"k":"w"},{"x":0.625,"y":0.7718,"k":"w"},{"x":0.875,"y":0.7162,"k":"w"},{"x":1.125,"y":0.4345,"k":"w"},{"x":1.375,"y":0.2572,"k":"w"}
],
"p2bars": [
{"x":0.1042,"y":0.757,"x2":0.1458,"y2":0.9994},{"x":0.3489,"y":1.1502,"x2":0.4011,"y2":0.9098},{"x":0.58,"y":0.6573,"x2":0.67,"y2":0.8863},{"x":0.836,"y":0.8329,"x2":0.914,"y2":0.5995},{"x":1.0259,"y":0.3616,"x2":1.2241,"y2":0.5074},{"x":1.3232,"y":0.3688,"x2":1.4268,"y2":0.1456}
],
"p3poly": [
{"x":0,"y":0.15},{"x":0.5,"y":0.8496},{"x":1,"y":0.5522},{"x":1.5,"y":0.0893}
],
"p3pts": [
{"x":0,"y":0.15,"k":"g"},{"x":0.5,"y":0.8496,"k":"w"},{"x":1,"y":0.5522,"k":"w"},{"x":1.5,"y":0.0893,"k":"w"}
],
"p3bars": [
{"x":0.4285,"y":0.7495,"x2":0.5715,"y2":0.9497},{"x":0.8943,"y":0.6151,"x2":1.1057,"y2":0.4893},{"x":1.4097,"y":0.1729,"x2":1.5903,"y2":0.0057}
]
},
"spacing": 76,
"bounds": "flush",
"hconcat": [
{
 "width": 387, "height": 465,
 "layer": [
  {"data": {"name": "field"}, "mark": {"type": "line", "interpolate": "monotone", "clip": true, "stroke": "black", "strokeWidth": 1}, "encoding": {"x": {"field": "x", "type": "quantitative", "scale": {"domain": [0, 1.5], "nice": false, "zero": false}, "axis": {"values": [0, 1], "format": "d"}}, "y": {"field": "y", "type": "quantitative", "scale": {"domain": [0, 1.8], "nice": false, "zero": false}, "axis": {"values": [1], "format": "d"}}, "detail": {"field": "i"}}},
  {"data": {"name": "smooth"}, "mark": {"type": "line", "interpolate": "monotone", "clip": true, "stroke": "black", "strokeWidth": 1}, "encoding": {"x": {"field": "x", "type": "quantitative", "axis": {"values": [0, 1], "format": "d"}}, "y": {"field": "y", "type": "quantitative", "axis": {"values": [1], "format": "d"}}}},
  {"data": {"name": "eecurves"}, "mark": {"type": "line", "interpolate": "monotone", "clip": true, "stroke": "black", "strokeWidth": 1}, "encoding": {"x": {"field": "x", "type": "quantitative", "axis": {"values": [0, 1], "format": "d"}}, "y": {"field": "y", "type": "quantitative", "axis": {"values": [1], "format": "d"}}, "detail": {"field": "i"}}},
  {"data": {"name": "ee"}, "mark": {"type": "line", "stroke": "black", "strokeWidth": 1.6}, "encoding": {"x": {"field": "x", "type": "quantitative", "axis": {"values": [0, 1], "format": "d"}}, "y": {"field": "y", "type": "quantitative", "axis": {"values": [1], "format": "d"}}}},
  {"data": {"name": "eebars"}, "mark": {"type": "rule", "stroke": "black", "strokeWidth": 6}, "encoding": {"x": {"field": "x", "type": "quantitative", "axis": {"values": [0, 1], "format": "d"}}, "y": {"field": "y", "type": "quantitative", "axis": {"values": [1], "format": "d"}}, "x2": {"field": "x2"}, "y2": {"field": "y2"}}},
  {"data": {"name": "ee"}, "transform": [{"filter": "datum.k != 'e'"}], "mark": {"type": "point", "filled": true, "size": 200, "stroke": "black", "strokeWidth": 1.2, "opacity": 1}, "encoding": {"x": {"field": "x", "type": "quantitative", "axis": {"values": [0, 1], "format": "d"}}, "y": {"field": "y", "type": "quantitative", "axis": {"values": [1], "format": "d"}}, "fill": {"field": "k", "type": "nominal", "scale": {"domain": ["g", "w", "b"], "range": ["#808080", "#ffffff", "#000000"]}, "legend": null}}},
  {"data": {"name": "one"}, "mark": {"type": "rule", "stroke": "black", "strokeWidth": 1.2}, "encoding": {"x": {"datum": 1, "axis": {"values": [0, 1], "format": "d"}}, "y": {"datum": 0, "axis": {"values": [1], "format": "d"}}, "y2": {"datum": 0.07}}},
  {"data": {"name": "one"}, "mark": {"type": "rule", "stroke": "black", "strokeWidth": 1.2}, "encoding": {"x": {"datum": 0, "axis": {"values": [0, 1], "format": "d"}}, "x2": {"datum": 0.072}, "y": {"datum": 1, "axis": {"values": [1], "format": "d"}}}},
  {"data": {"name": "one"}, "mark": {"type": "rect", "fill": "white"}, "encoding": {"x": {"datum": 0.215, "axis": {"values": [0, 1], "format": "d"}}, "x2": {"datum": 1.28}, "y": {"datum": 1.608, "axis": {"values": [1], "format": "d"}}, "y2": {"datum": 1.764}}},
  {"data": {"name": "one"}, "mark": {"type": "text", "text": "ex. Euler, hλ = 1.95", "font": "Liberation Serif", "fontSize": 33, "align": "center", "baseline": "middle", "fill": "black"}, "encoding": {"x": {"datum": 0.745, "axis": {"values": [0, 1], "format": "d"}}, "y": {"datum": 1.686, "axis": {"values": [1], "format": "d"}}}}
 ]
},
{
 "width": 387, "height": 465,
 "layer": [
  {"data": {"name": "field"}, "mark": {"type": "line", "interpolate": "monotone", "clip": true, "stroke": "black", "strokeWidth": 1}, "encoding": {"x": {"field": "x", "type": "quantitative", "scale": {"domain": [0, 1.5], "nice": false, "zero": false}, "axis": {"values": [0, 1], "format": "d"}}, "y": {"field": "y", "type": "quantitative", "scale": {"domain": [0, 1.8], "nice": false, "zero": false}, "axis": {"values": [1], "format": "d"}}, "detail": {"field": "i"}}},
  {"data": {"name": "smooth"}, "mark": {"type": "line", "interpolate": "monotone", "clip": true, "stroke": "black", "strokeWidth": 1}, "encoding": {"x": {"field": "x", "type": "quantitative", "axis": {"values": [0, 1], "format": "d"}}, "y": {"field": "y", "type": "quantitative", "axis": {"values": [1], "format": "d"}}}},
  {"data": {"name": "p2poly"}, "mark": {"type": "line", "stroke": "black", "strokeWidth": 3}, "encoding": {"x": {"field": "x", "type": "quantitative", "axis": {"values": [0, 1], "format": "d"}}, "y": {"field": "y", "type": "quantitative", "axis": {"values": [1], "format": "d"}}}},
  {"data": {"name": "p2bars"}, "mark": {"type": "rule", "stroke": "black", "strokeWidth": 6}, "encoding": {"x": {"field": "x", "type": "quantitative", "axis": {"values": [0, 1], "format": "d"}}, "y": {"field": "y", "type": "quantitative", "axis": {"values": [1], "format": "d"}}, "x2": {"field": "x2"}, "y2": {"field": "y2"}}},
  {"data": {"name": "p2pts"}, "mark": {"type": "point", "filled": true, "size": 200, "stroke": "black", "strokeWidth": 1.2, "opacity": 1}, "encoding": {"x": {"field": "x", "type": "quantitative", "axis": {"values": [0, 1], "format": "d"}}, "y": {"field": "y", "type": "quantitative", "axis": {"values": [1], "format": "d"}}, "fill": {"field": "k", "type": "nominal", "scale": {"domain": ["g", "w", "b"], "range": ["#808080", "#ffffff", "#000000"]}, "legend": null}}},
  {"data": {"name": "one"}, "mark": {"type": "rule", "stroke": "black", "strokeWidth": 1.2}, "encoding": {"x": {"datum": 1, "axis": {"values": [0, 1], "format": "d"}}, "y": {"datum": 0, "axis": {"values": [1], "format": "d"}}, "y2": {"datum": 0.07}}},
  {"data": {"name": "one"}, "mark": {"type": "rule", "stroke": "black", "strokeWidth": 1.2}, "encoding": {"x": {"datum": 0, "axis": {"values": [0, 1], "format": "d"}}, "x2": {"datum": 0.072}, "y": {"datum": 1, "axis": {"values": [1], "format": "d"}}}},
  {"data": {"name": "one"}, "mark": {"type": "rect", "fill": "white"}, "encoding": {"x": {"datum": 0.183, "axis": {"values": [0, 1], "format": "d"}}, "x2": {"datum": 1.317}, "y": {"datum": 1.608, "axis": {"values": [1], "format": "d"}}, "y2": {"datum": 1.764}}},
  {"data": {"name": "one"}, "mark": {"type": "text", "text": "impl. midp. h = 0.25", "font": "Liberation Serif", "fontSize": 33, "align": "center", "baseline": "middle", "fill": "black"}, "encoding": {"x": {"datum": 0.75, "axis": {"values": [0, 1], "format": "d"}}, "y": {"datum": 1.686, "axis": {"values": [1], "format": "d"}}}}
 ]
},
{
 "width": 387, "height": 465,
 "layer": [
  {"data": {"name": "field"}, "mark": {"type": "line", "interpolate": "monotone", "clip": true, "stroke": "black", "strokeWidth": 1}, "encoding": {"x": {"field": "x", "type": "quantitative", "scale": {"domain": [0, 1.5], "nice": false, "zero": false}, "axis": {"values": [0, 1], "format": "d"}}, "y": {"field": "y", "type": "quantitative", "scale": {"domain": [0, 1.8], "nice": false, "zero": false}, "axis": {"values": [1], "format": "d"}}, "detail": {"field": "i"}}},
  {"data": {"name": "smooth"}, "mark": {"type": "line", "interpolate": "monotone", "clip": true, "stroke": "black", "strokeWidth": 1}, "encoding": {"x": {"field": "x", "type": "quantitative", "axis": {"values": [0, 1], "format": "d"}}, "y": {"field": "y", "type": "quantitative", "axis": {"values": [1], "format": "d"}}}},
  {"data": {"name": "p3poly"}, "mark": {"type": "line", "stroke": "black", "strokeWidth": 3}, "encoding": {"x": {"field": "x", "type": "quantitative", "axis": {"values": [0, 1], "format": "d"}}, "y": {"field": "y", "type": "quantitative", "axis": {"values": [1], "format": "d"}}}},
  {"data": {"name": "p3bars"}, "mark": {"type": "rule", "stroke": "black", "strokeWidth": 6}, "encoding": {"x": {"field": "x", "type": "quantitative", "axis": {"values": [0, 1], "format": "d"}}, "y": {"field": "y", "type": "quantitative", "axis": {"values": [1], "format": "d"}}, "x2": {"field": "x2"}, "y2": {"field": "y2"}}},
  {"data": {"name": "p3pts"}, "mark": {"type": "point", "filled": true, "size": 200, "stroke": "black", "strokeWidth": 1.2, "opacity": 1}, "encoding": {"x": {"field": "x", "type": "quantitative", "axis": {"values": [0, 1], "format": "d"}}, "y": {"field": "y", "type": "quantitative", "axis": {"values": [1], "format": "d"}}, "fill": {"field": "k", "type": "nominal", "scale": {"domain": ["g", "w", "b"], "range": ["#808080", "#ffffff", "#000000"]}, "legend": null}}},
  {"data": {"name": "one"}, "mark": {"type": "rule", "stroke": "black", "strokeWidth": 1.2}, "encoding": {"x": {"datum": 1, "axis": {"values": [0, 1], "format": "d"}}, "y": {"datum": 0, "axis": {"values": [1], "format": "d"}}, "y2": {"datum": 0.07}}},
  {"data": {"name": "one"}, "mark": {"type": "rule", "stroke": "black", "strokeWidth": 1.2}, "encoding": {"x": {"datum": 0, "axis": {"values": [0, 1], "format": "d"}}, "x2": {"datum": 0.072}, "y": {"datum": 1, "axis": {"values": [1], "format": "d"}}}},
  {"data": {"name": "one"}, "mark": {"type": "rect", "fill": "white"}, "encoding": {"x": {"datum": 0.217, "axis": {"values": [0, 1], "format": "d"}}, "x2": {"datum": 1.271}, "y": {"datum": 1.608, "axis": {"values": [1], "format": "d"}}, "y2": {"datum": 1.764}}},
  {"data": {"name": "one"}, "mark": {"type": "text", "text": "impl. Euler, h = 0.5", "font": "Liberation Serif", "fontSize": 33, "align": "center", "baseline": "middle", "fill": "black"}, "encoding": {"x": {"datum": 0.744, "axis": {"values": [0, 1], "format": "d"}}, "y": {"datum": 1.686, "axis": {"values": [1], "format": "d"}}}}
 ]
}
]
}
